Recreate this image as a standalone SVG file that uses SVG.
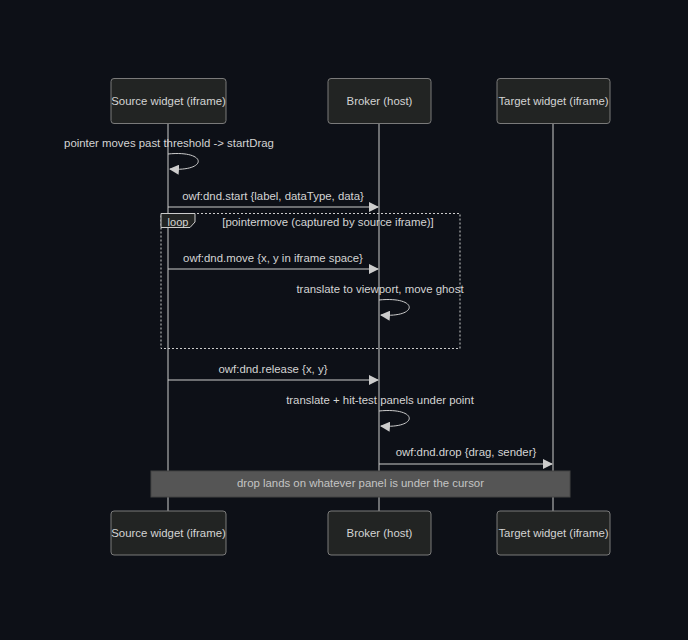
<svg xmlns="http://www.w3.org/2000/svg" width="688" height="640" viewBox="0 0 688 640">
<style>
text{font-family:"Liberation Sans",Arial,sans-serif;font-size:11.4px;fill:#d4d4d4;text-anchor:middle}
.actor rect{fill:#222423;stroke:#7a7a7a;stroke-width:1}
.life{stroke:#cccccc;stroke-width:1}
.msg{stroke:#cccccc;stroke-width:1;fill:none}
.loopbox{fill:none;stroke:#cccccc;stroke-width:1;stroke-dasharray:2,2}
</style>
<defs>
<marker id="ah" viewBox="0 0 10 10" refX="9" refY="5" markerWidth="10" markerHeight="10" markerUnits="userSpaceOnUse" orient="auto">
<path d="M0,0 L10,5 L0,10 z" fill="#cccccc"/>
</marker>
</defs>
<rect width="688" height="640" fill="#0d1017"/>
<g id="lifelines">
<line class="life" x1="168" y1="123" x2="168" y2="511"/>
<line class="life" x1="379" y1="123" x2="379" y2="511"/>
<line class="life" x1="553" y1="123" x2="553" y2="511"/>
</g>
<g id="actor-source-top" class="actor"><rect x="111" y="78.5" width="115" height="45" rx="3"/><text x="168.5" y="105">Source widget (iframe)</text></g>
<g id="actor-broker-top" class="actor"><rect x="328" y="78.5" width="103" height="45" rx="3"/><text x="379.5" y="105">Broker (host)</text></g>
<g id="actor-target-top" class="actor"><rect x="497" y="78.5" width="113" height="45" rx="3"/><text x="553.5" y="105">Target widget (iframe)</text></g>
<g id="loop">
<rect class="loopbox" x="161" y="213.5" width="299" height="135"/>
<path d="M161,213.5 H195 V222 L190,227.5 H161 Z" fill="#222423" stroke="#cccccc" stroke-width="1"/>
<text x="178" y="225.5" style="font-size:11px">loop</text>
<text x="328" y="226">[pointermove (captured by source iframe)]</text>
</g>
<g id="connectors">
<text x="169" y="147">pointer moves past threshold -&gt; startDrag</text>
<path class="msg" d="M168,154 C208,150 208,172 170,169" marker-end="url(#ah)"/>
<text x="273" y="200">owf:dnd.start {label, dataType, data}</text>
<line class="msg" x1="168" y1="207" x2="378" y2="207" marker-end="url(#ah)"/>
<text x="273" y="262">owf:dnd.move {x, y in iframe space}</text>
<line class="msg" x1="168" y1="269" x2="378" y2="269" marker-end="url(#ah)"/>
<text x="380" y="293">translate to viewport, move ghost</text>
<path class="msg" d="M379,300 C419,296 419,318 381,315" marker-end="url(#ah)"/>
<text x="273" y="373">owf:dnd.release {x, y}</text>
<line class="msg" x1="168" y1="380" x2="378" y2="380" marker-end="url(#ah)"/>
<text x="380" y="404">translate + hit-test panels under point</text>
<path class="msg" d="M379,411 C419,407 419,429 381,426" marker-end="url(#ah)"/>
<text x="466" y="456">owf:dnd.drop {drag, sender}</text>
<line class="msg" x1="379" y1="464" x2="552" y2="464" marker-end="url(#ah)"/>
</g>
<g id="note">
<rect x="151" y="471" width="419" height="26" fill="#555555" stroke="#444444" stroke-width="1"/>
<text x="360.5" y="487" style="fill:#c4c4c4">drop lands on whatever panel is under the cursor</text>
</g>
<g id="actor-source-bottom" class="actor"><rect x="111" y="511" width="115" height="44" rx="3"/><text x="168.5" y="537">Source widget (iframe)</text></g>
<g id="actor-broker-bottom" class="actor"><rect x="328" y="511" width="103" height="44" rx="3"/><text x="379.5" y="537">Broker (host)</text></g>
<g id="actor-target-bottom" class="actor"><rect x="497" y="511" width="113" height="44" rx="3"/><text x="553.5" y="537">Target widget (iframe)</text></g>
</svg>
